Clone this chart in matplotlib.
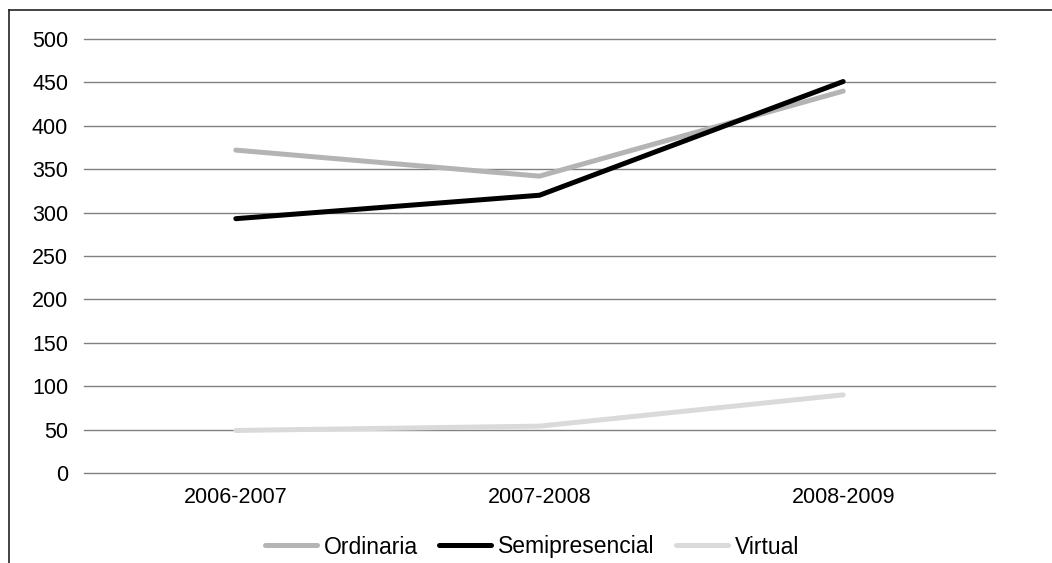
import matplotlib
matplotlib.use('Agg')
import matplotlib.pyplot as plt
from matplotlib.lines import Line2D

plt.rcParams['font.family'] = ['Liberation Sans', 'DejaVu Sans']

# data
years = ['2006-2007', '2007-2008', '2008-2009']
ordinaria = [372, 342, 440]
semipresencial = [293, 320, 451]
virtual = [49, 54, 90]
yticks = [0, 50, 100, 150, 200, 250, 300, 350, 400, 450, 500]

W, H = 1052, 563
fig = plt.figure(figsize=(W / 100, H / 100), dpi=100)
ax = fig.add_axes([84 / W, 1 - 473 / H, (995 - 84) / W, (473 - 39) / H])

x = list(range(len(years)))
ax.plot(x, ordinaria, color='#b4b4b4', lw=3.6, solid_capstyle='round',
        solid_joinstyle='miter', label='Ordinaria', zorder=3)
ax.plot(x, semipresencial, color='black', lw=3.6, solid_capstyle='round',
        solid_joinstyle='miter', label='Semipresencial', zorder=4)
ax.plot(x, virtual, color='#dadada', lw=3.6, solid_capstyle='round',
        solid_joinstyle='miter', label='Virtual', zorder=3)

ax.set_xlim(-0.5, len(years) - 0.5)
ax.set_ylim(0, 500)
ax.set_yticks(yticks)
ax.set_xticks(x)
ax.set_xticklabels(years)
ax.yaxis.grid(True, color='#808080', lw=1.0)
for gl in ax.get_ygridlines():
    gl.set_clip_on(False)
ax.set_axisbelow(True)
for s in ax.spines.values():
    s.set_visible(False)
ax.tick_params(axis='both', length=0, labelsize=15.5)
ax.tick_params(axis='y', pad=11.5)
ax.tick_params(axis='x', pad=10)

fig.legend(loc='center', bbox_to_anchor=(532 / W, 1 - 547 / H), ncol=3,
           frameon=False, fontsize=16.5, handlelength=2.25, handletextpad=0.3,
           columnspacing=0.95)

# outer frame, cropped on the right and bottom
bx, by = 9.5 / W, 1 - 9.5 / H
fig.add_artist(Line2D([bx, bx], [0, by], color='#222222', lw=1.2,
                      transform=fig.transFigure))
fig.add_artist(Line2D([bx, 1], [by, by], color='#222222', lw=1.2,
                      transform=fig.transFigure))

fig.savefig('out.png', dpi=100)
